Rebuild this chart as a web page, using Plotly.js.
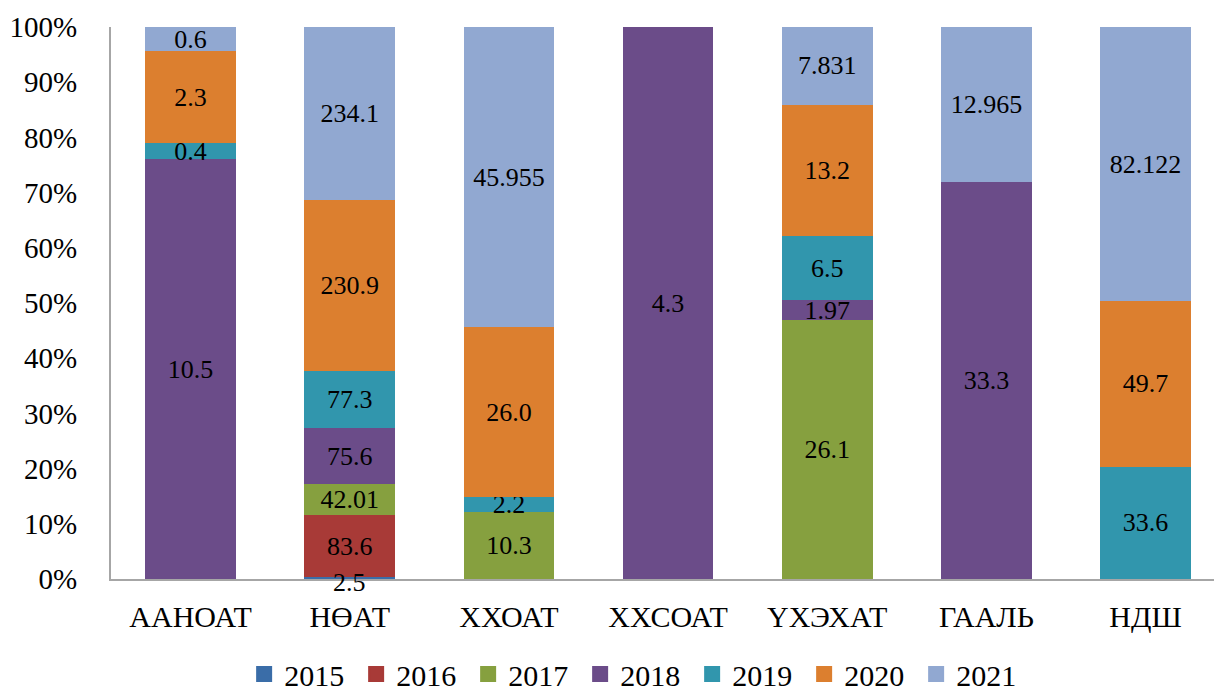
<!DOCTYPE html>
<html>
<head>
<meta charset="utf-8">
<script src="https://cdn.plot.ly/plotly-3.0.1.min.js"></script>
<style>html,body{margin:0;padding:0;background:#fff;}#chart{width:1214px;height:700px;}</style>
</head>
<body>
<div id="chart"></div>
<script>
const categories = ['ААНОАТ', 'НӨАТ', 'ХХОАТ', 'ХХСОАТ', 'ҮХЭХАТ', 'ГААЛЬ', 'НДШ'];
const years = ['2015', '2016', '2017', '2018', '2019', '2020', '2021'];
const v2015 = [null, 2.5, null, null, null, null, null];
const v2016 = [null, 83.6, null, null, null, null, null];
const v2017 = [null, 42.01, 10.3, null, 26.1, null, null];
const v2018 = [10.5, 75.6, null, 4.3, 1.97, 33.3, null];
const v2019 = [0.4, 77.3, 2.2, null, 6.5, null, 33.6];
const v2020 = [2.3, 230.9, 26.0, null, 13.2, null, 49.7];
const v2021 = [0.6, 234.1, 45.955, null, 7.831, 12.965, 82.122];
const seriesValues = [v2015, v2016, v2017, v2018, v2019, v2020, v2021];
const yTickVals = [0, 10, 20, 30, 40, 50, 60, 70, 80, 90, 100];
const colors = ['#3A6DA8', '#A83A37', '#86A03F', '#6B4C89', '#3196AD', '#DC7F2F', '#91A8D1'];

const FONT = 'Liberation Serif';
function toLabel(v) {
  if (v == null) return '';
  return Number.isInteger(v) ? v.toFixed(1) : String(v);
}

const traces = years.map((yr, i) => ({
  type: 'bar',
  name: yr,
  x: categories,
  y: seriesValues[i],
  text: i === 0 ? undefined : seriesValues[i].map(toLabel),
  textposition: i === 0 ? 'none' : 'inside',
  insidetextanchor: 'middle',
  textangle: 0,
  cliponaxis: false,
  textfont: {family: FONT, size: 26, color: '#000'},
  marker: {color: colors[i], line: {width: 0}},
  showlegend: false,
  hoverinfo: 'skip'
}));

// legend entries (square markers)
years.forEach((yr, i) => {
  traces.push({
    type: 'scatter', mode: 'markers', name: yr,
    x: [null], y: [null],
    marker: {symbol: 'square', size: 14, color: colors[i], line: {width: 2, color: colors[i]}},
    showlegend: true, hoverinfo: 'skip'
  });
});

// the thin 2015 segment: its label sits on the baseline
const annotations = [];
v2015.forEach((v, j) => {
  if (v != null) {
    annotations.push({
      x: categories[j], y: 0, xref: 'x', yref: 'y',
      text: toLabel(v), showarrow: false, yanchor: 'middle', yshift: -3,
      font: {family: FONT, size: 26, color: '#000'}
    });
  }
});

const layout = {
  width: 1214, height: 700,
  margin: {l: 111, r: 0, t: 27, b: 121},
  paper_bgcolor: '#fff', plot_bgcolor: '#fff',
  barmode: 'stack', barnorm: 'percent', bargap: 0.43,
  uniformtext: {mode: 'show', minsize: 26},
  font: {family: FONT, color: '#000'},
  annotations: annotations,
  xaxis: {
    type: 'category', range: [-0.5, 6.43],
    showgrid: false, zeroline: false,
    showline: true, linecolor: '#A6A6A6', linewidth: 2,
    ticks: 'outside', ticklen: 10, tickcolor: 'rgba(0,0,0,0)',
    tickfont: {family: FONT, size: 30, color: '#000'}
  },
  yaxis: {
    range: [0, 100], tickmode: 'array',
    tickvals: yTickVals, ticktext: yTickVals.map(v => v + '%'),
    showgrid: false, zeroline: false,
    showline: true, linecolor: '#A6A6A6', linewidth: 2,
    ticks: 'outside', ticklen: 26, tickcolor: 'rgba(0,0,0,0)',
    tickfont: {family: FONT, size: 29, color: '#000'}
  },
  showlegend: true,
  legend: {
    orientation: 'h', xref: 'container', yref: 'container',
    x: 0.524, xanchor: 'center', y: 0, yanchor: 'bottom',
    entrywidth: 67, entrywidthmode: 'pixels',
    font: {family: FONT, size: 30, color: '#000'},
    traceorder: 'normal', itemclick: false
  }
};

Plotly.newPlot('chart', traces, layout, {displayModeBar: false, staticPlot: true});
</script>
</body>
</html>
